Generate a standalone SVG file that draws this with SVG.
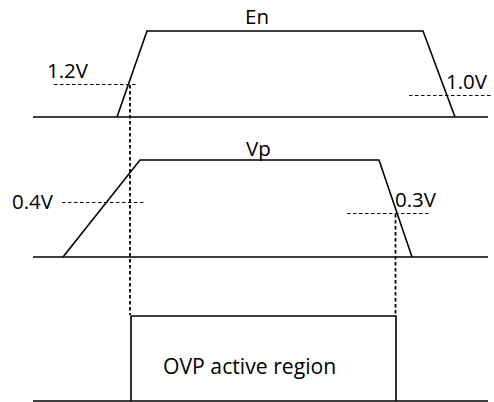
<svg xmlns="http://www.w3.org/2000/svg" width="494" height="402" viewBox="0 0 494 402">
<style>
.w{fill:none;stroke:#000;stroke-width:1.6;stroke-linejoin:miter}
.b{fill:none;stroke:#000;stroke-width:1.6}
.dh{fill:none;stroke:#000;stroke-width:1.2;stroke-dasharray:3.5,2.5}
.dv{fill:none;stroke:#000;stroke-width:1.8;stroke-dasharray:3.5,2.5}
text{font-family:"Open Sans","Liberation Sans",sans-serif;font-size:20.5px;fill:#000}
</style>
<rect width="494" height="402" fill="#fff"/>
<g id="en">
<line class="b" x1="33" y1="117" x2="488" y2="117"/>
<polyline class="w" points="117,117 147,31 423,31 455,117"/>
<text x="245" y="24">En</text>
</g>
<g id="vp">
<line class="b" x1="33" y1="257" x2="488" y2="257"/>
<polyline class="w" points="63,257 140,160 379,160 412,257"/>
<text x="246" y="156">Vp</text>
</g>
<g id="ovp">
<line class="b" x1="33" y1="401" x2="488" y2="401"/>
<polyline class="w" points="131,401 131,316 396,316 396,401"/>
<text x="163" y="374" style="font-size:21.2px">OVP active region</text>
</g>
<g id="labels">
<text x="47" y="78">1.2V</text>
<text x="446" y="89">1.0V</text>
<text x="12" y="209">0.4V</text>
<text x="395" y="207">0.3V</text>
</g>
<g id="connectors">
<line class="dh" x1="54" y1="84.5" x2="138" y2="84.5"/>
<line class="dh" x1="409" y1="95.5" x2="493" y2="95.5"/>
<line class="dh" x1="62" y1="202.5" x2="145" y2="202.5"/>
<line class="dh" x1="347" y1="213.5" x2="430" y2="213.5"/>
<line class="dv" x1="130" y1="85" x2="130" y2="315"/>
<line class="dv" x1="395.5" y1="214" x2="395.5" y2="315"/>
</g>
</svg>
